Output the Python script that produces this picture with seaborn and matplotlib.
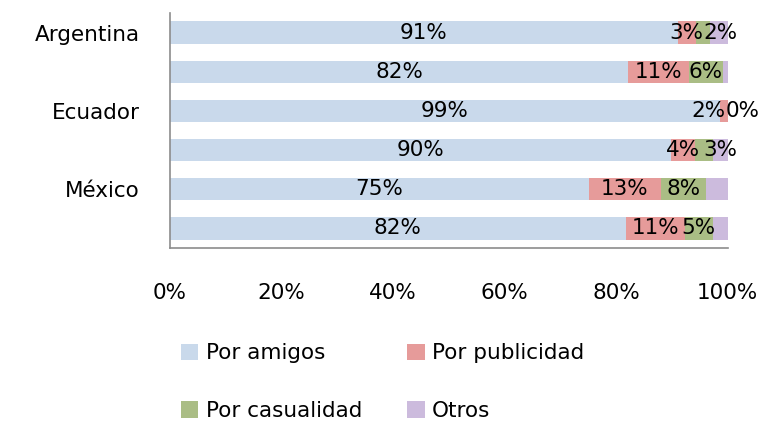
import numpy as np
import pandas as pd
import matplotlib
matplotlib.use("Agg")
import matplotlib.pyplot as plt
import seaborn as sns
from matplotlib.patches import Patch

# ---- data ----
rows = ["Argentina", "Argentina_b", "Ecuador", "Ecuador_b", "México", "México_b"]
row_tick_labels = ["Argentina", "", "Ecuador", "", "México", ""]
series = ["Por amigos", "Por publicidad", "Por casualidad", "Otros"]
por_amigos = [91.0, 82.1, 98.6, 89.8, 75.1, 81.7]
por_publicidad = [3.4, 10.9, 1.4, 4.3, 12.9, 10.6]
por_casualidad = [2.5, 6.1, 0.0, 3.2, 8.1, 5.0]
otros = [3.1, 0.9, 0.0, 2.7, 3.9, 2.7]
lbl_amigos = ["91%", "82%", "99%", "90%", "75%", "82%"]
lbl_publicidad = ["3%", "11%", "2%", "4%", "13%", "11%"]
lbl_casualidad = ["", "6%", "", "", "8%", "5%"]
lbl_otros = ["2%", "", "0%", "3%", "", ""]
x_ticks = [0, 20, 40, 60, 80, 100]
x_tick_labels = ["0%", "20%", "40%", "60%", "80%", "100%"]

colors = ["#c9d9eb", "#e69b9a", "#aabd85", "#ccbbdd"]

vals = [por_amigos, por_publicidad, por_casualidad, otros]
labels = [lbl_amigos, lbl_publicidad, lbl_casualidad, lbl_otros]

df = pd.DataFrame({"row": rows})
for s, v in zip(series, vals):
    df[s] = v
cum = df[series].cumsum(axis=1)

sns.set_theme(style="white")
plt.rcParams["font.family"] = ["DejaVu Sans"]
plt.rcParams["text.color"] = "black"
FS = 15.5

fig = plt.figure(figsize=(7.66, 4.21), dpi=100)
ax = fig.add_axes([0.222, 0.411, 0.728, 0.558])

# stacked bars: draw cumulative totals from the outermost series inward
for s, c in reversed(list(zip(series, colors))):
    sns.barplot(data=cum.assign(row=rows), x=s, y="row", order=rows,
                color=c, orient="h", width=0.57, ax=ax,
                edgecolor="none", linewidth=0, saturation=1)

# labels centred in each segment
texts = {i: [] for i in range(len(rows))}
for j, s in enumerate(series):
    starts = cum[s].values - df[s].values
    for i in range(len(rows)):
        t = labels[j][i]
        if t:
            xc = starts[i] + df[s].values[i] / 2
            txt = ax.text(xc, i, t, ha="center", va="center",
                          fontsize=FS, color="black")
            texts[i].append(txt)

ax.set_xlim(0, 100)
ax.set_xticks(x_ticks)
ax.set_xticklabels(x_tick_labels, fontsize=FS, color="black")
ax.set_yticks(range(len(rows)))
ax.set_yticklabels(row_tick_labels, fontsize=FS, color="black")
ax.set_xlabel("")
ax.set_ylabel("")
ax.tick_params(axis="x", length=0, pad=25)
ax.tick_params(axis="y", length=0, pad=22)
for sp in ["top", "right"]:
    ax.spines[sp].set_visible(False)
for sp in ["left", "bottom"]:
    ax.spines[sp].set_color("#8c8c8c")
    ax.spines[sp].set_linewidth(1.2)

# spread overlapping labels in each row apart
fig.canvas.draw()
r = fig.canvas.get_renderer()
inv = ax.transData.inverted()
for i, lst in texts.items():
    lst.sort(key=lambda t: t.get_position()[0])
    for a, b in zip(lst[:-1], lst[1:]):
        ba = a.get_window_extent(r)
        bb = b.get_window_extent(r)
        ov = ba.x1 - bb.x0
        if ov > 0:
            for t, d in ((a, -ov / 2), (b, ov / 2)):
                x, y = t.get_position()
                px, py = ax.transData.transform((x, y))
                nx, _ = inv.transform((px + d, py))
                t.set_position((nx, y))

handles = [Patch(facecolor=c, edgecolor="none") for c in colors]
order = [0, 2, 1, 3]
leg = fig.legend([handles[k] for k in order], [series[k] for k in order],
                 ncol=2, loc="upper left", bbox_to_anchor=(0.225, 0.205),
                 frameon=False, fontsize=FS, handlelength=0.8, handleheight=0.8,
                 handletextpad=0.35, labelspacing=1.75, columnspacing=2.1,
                 borderaxespad=0)
for t in leg.get_texts():
    t.set_color("black")

fig.savefig("out.png", dpi=100)
